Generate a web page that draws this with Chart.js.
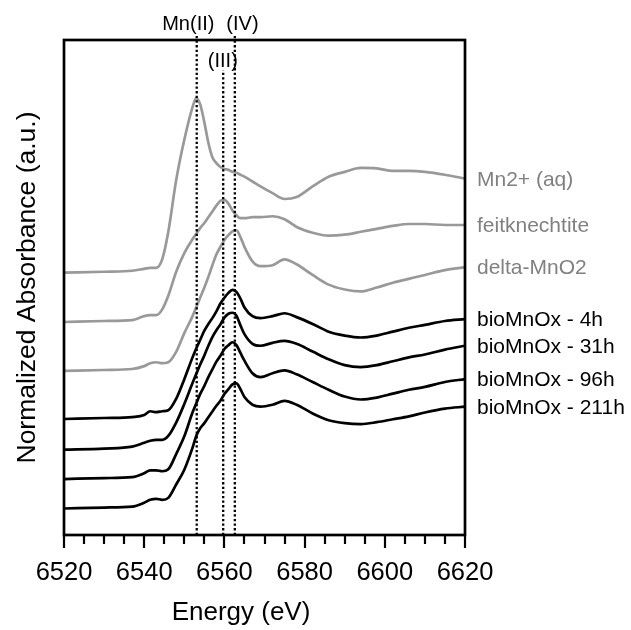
<!DOCTYPE html>
<html><head><meta charset="utf-8">
<script src="https://cdn.jsdelivr.net/npm/chart.js@4/dist/chart.umd.min.js"></script>
<style>html,body{margin:0;padding:0;background:#fff}</style>
</head><body>
<canvas id="c" width="631" height="630" style="display:block;width:631px;height:630px"></canvas>
<script>
// Energy grid (eV)
const energy = [6520,6530,6537,6540,6541.5,6543,6544.5,6546,6548,6550,6552,6553,6554,6555,6556,6557,6558,6559,6560,6561,6562,6563,6564,6565,6567,6569,6572,6575,6578,6582,6586,6590,6594,6598,6602,6606,6610,6615,6620];
// Normalized absorbance (pre-edge = 0) for each spectrum
const mn2aq = [0,0.01,0.02,0.04,0.05,0.05,0.14,0.42,0.96,1.37,1.70,1.80,1.73,1.55,1.34,1.19,1.13,1.09,1.07,1.06,1.04,1.03,1.01,0.99,0.94,0.89,0.82,0.76,0.78,0.89,0.99,1.04,1.08,1.075,1.05,1.05,1.04,1.01,0.97];
const feitknechtite = [0,0.01,0.02,0.06,0.07,0.07,0.13,0.27,0.52,0.71,0.85,0.91,0.97,1.02,1.08,1.14,1.20,1.25,1.26,1.22,1.15,1.10,1.07,1.07,1.08,1.08,1.09,1.06,0.98,0.92,0.89,0.90,0.93,0.96,0.99,1.01,1.01,1.00,1.00];
const deltaMnO2 = [0,0.01,0.02,0.05,0.08,0.09,0.08,0.09,0.20,0.39,0.56,0.66,0.76,0.86,0.97,1.09,1.20,1.28,1.35,1.40,1.44,1.45,1.38,1.28,1.13,1.08,1.09,1.15,1.10,0.99,0.89,0.84,0.82,0.86,0.91,0.95,0.99,1.04,1.07];
const bio4h = [0,0.01,0.02,0.04,0.08,0.07,0.08,0.09,0.21,0.41,0.63,0.73,0.82,0.91,0.98,1.04,1.11,1.19,1.25,1.30,1.33,1.31,1.24,1.15,1.06,1.04,1.06,1.09,1.05,0.98,0.90,0.86,0.84,0.86,0.90,0.94,0.97,1.01,1.03];
const bio31h = [0,0.01,0.03,0.07,0.09,0.10,0.10,0.14,0.28,0.47,0.68,0.78,0.88,0.97,1.07,1.16,1.23,1.29,1.36,1.40,1.41,1.38,1.28,1.19,1.09,1.07,1.10,1.12,1.09,1.01,0.93,0.87,0.85,0.87,0.91,0.95,0.98,1.03,1.07];
const bio96h = [0,0.01,0.02,0.06,0.09,0.09,0.08,0.10,0.26,0.44,0.68,0.78,0.88,0.96,1.05,1.13,1.21,1.27,1.34,1.38,1.41,1.38,1.30,1.22,1.09,1.05,1.09,1.12,1.08,1.00,0.92,0.85,0.82,0.84,0.88,0.92,0.95,1.00,1.03];
const bio211h = [0,0.01,0.02,0.06,0.09,0.10,0.09,0.11,0.25,0.40,0.62,0.75,0.83,0.88,0.94,1.00,1.06,1.11,1.18,1.23,1.28,1.29,1.23,1.15,1.07,1.05,1.07,1.11,1.07,0.98,0.91,0.88,0.87,0.89,0.92,0.95,0.99,1.03,1.05];
// Vertical stacking offsets
const offsets = [2.704, 2.196, 1.691, 1.196, 0.881, 0.577, 0.273];
const seriesNames = ['Mn2+ (aq)','feitknechtite','delta-MnO2','bioMnOx - 4h','bioMnOx - 31h','bioMnOx - 96h','bioMnOx - 211h'];
const seriesValues = [mn2aq, feitknechtite, deltaMnO2, bio4h, bio31h, bio96h, bio211h];
// Reference edge energies
const refEnergies = [6553.1, 6559.7, 6562.6];
const refLabels = ['Mn(II)', '(III)', '(IV)'];
const refTops = [5.16, 4.79, 5.16];
// X tick labels
const xTickValues = [6520, 6540, 6560, 6580, 6600, 6620];
const minorStep = 5;

// styles (kept apart from data)
const GRAY = '#999999', GRAY_TEXT = '#808080', FONT = "'Liberation Sans', Arial, sans-serif";
const seriesColors = [GRAY, GRAY, GRAY, '#000', '#000', '#000', '#000'];
const textColors = [GRAY_TEXT, GRAY_TEXT, GRAY_TEXT, '#000', '#000', '#000', '#000'];
const refLabelPos = [{e:6551.0, v:5.26}, {e:6559.6, v:4.88}, {e:6564.5, v:5.26}];

const datasets = [];
seriesValues.forEach((vals, i) => {
  datasets.push({
    label: seriesNames[i],
    data: energy.map((e, k) => ({x: e, y: vals[k] + offsets[i]})),
    borderColor: seriesColors[i], borderWidth: 2.7, pointRadius: 0,
    cubicInterpolationMode: 'monotone', fill: false, order: 2
  });
});
refEnergies.forEach((e, i) => {
  datasets.push({
    label: refLabels[i],
    data: [{x: e, y: 0}, {x: e, y: refTops[i]}],
    borderColor: '#000', borderWidth: 2.3, borderDash: [2.3, 2.3], pointRadius: 0,
    clip: false, order: 1
  });
});

const overlay = {
  id: 'overlay',
  afterDraw(chart) {
    const {ctx, chartArea: a, scales: {x, y}} = chart;
    ctx.save();
    // frame
    ctx.strokeStyle = '#000'; ctx.lineWidth = 2.7; ctx.setLineDash([]);
    ctx.strokeRect(a.left, a.top, a.right - a.left, a.bottom - a.top);
    // tick marks
    ctx.lineWidth = 2.2;
    for (let e = x.min; e <= x.max + 0.001; e += minorStep) {
      const px = Math.round(x.getPixelForValue(e));
      const major = xTickValues.includes(e);
      ctx.beginPath(); ctx.moveTo(px, a.bottom); ctx.lineTo(px, a.bottom + (major ? 13 : 9)); ctx.stroke();
    }
    // series labels at right
    ctx.font = '21px ' + FONT; ctx.textAlign = 'left'; ctx.textBaseline = 'middle';
    seriesValues.forEach((vals, i) => {
      ctx.fillStyle = textColors[i];
      const py = y.getPixelForValue(vals[vals.length - 1] + offsets[i]) + 1.5;
      ctx.fillText(seriesNames[i], a.right + 12, py);
    });
    // reference labels
    ctx.font = '20px ' + FONT; ctx.textAlign = 'center'; ctx.fillStyle = '#000';
    refLabels.forEach((t, i) => {
      ctx.fillText(t, x.getPixelForValue(refLabelPos[i].e), y.getPixelForValue(refLabelPos[i].v));
    });
    // axis titles
    ctx.font = '26px ' + FONT;
    ctx.fillText('Energy (eV)', 241, 613);
    ctx.font = '26.5px ' + FONT;
    ctx.translate(28, (a.top + a.bottom) / 2);
    ctx.rotate(-Math.PI / 2);
    ctx.fillText('Normalized Absorbance (a.u.)', 0, 0);
    ctx.restore();
  }
};

new Chart(document.getElementById('c'), {
  type: 'line',
  data: {datasets},
  options: {
    responsive: false, animation: false, devicePixelRatio: 1,
    layout: {padding: {left: 64, right: 166, top: 40, bottom: 0}},
    plugins: {legend: {display: false}, tooltip: {enabled: false}},
    scales: {
      x: {
        type: 'linear', min: 6520, max: 6620,
        grid: {display: false, drawTicks: false}, border: {display: false},
        afterFit(s) { s.height = 95; },
        afterBuildTicks(s) { s.ticks = xTickValues.map(v => ({value: v})); },
        ticks: {padding: 23, color: '#000', font: {family: FONT, size: 25.5}, maxRotation: 0, autoSkip: false,
          callback: v => String(v)}
      },
      y: {type: 'linear', min: 0, max: 5.103, display: false}
    }
  },
  plugins: [overlay]
});
</script>
</body></html>
